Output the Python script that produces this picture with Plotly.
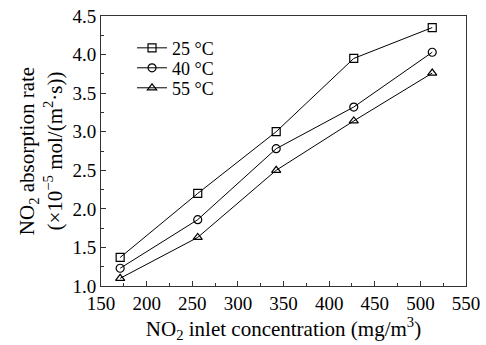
import plotly.graph_objects as go

conc = [171, 256, 342, 427, 513]
rate_25 = [1.37, 2.20, 3.00, 3.95, 4.35]
rate_40 = [1.23, 1.86, 2.78, 3.32, 4.03]
rate_55 = [1.10, 1.63, 2.50, 3.14, 3.76]
labels = ["25 °C", "40 °C", "55 °C"]
symbols = ["square-open", "circle-open", "triangle-up-open"]
legend_ids = ["legend", "legend2", "legend3"]
legend_y = [0.881, 0.807, 0.733]

font = "Liberation Serif, Times New Roman, serif"

fig = go.Figure()
for name, ys, sym, lid in zip(labels, [rate_25, rate_40, rate_55], symbols, legend_ids):
    fig.add_trace(go.Scatter(
        x=conc, y=ys, name=name, mode="lines+markers", legend=lid, showlegend=True,
        line=dict(color="black", width=1),
        marker=dict(symbol=sym, size=8, color="black", line=dict(width=1.2, color="black")),
    ))

axis_common = dict(
    showline=True, linecolor="#333", linewidth=1, mirror=True,
    ticks="inside", ticklen=5, tickcolor="#333", showgrid=False, zeroline=False,
    tickfont=dict(family=font, size=19, color="black"),
    ticklabeloverflow="allow", automargin=False,
)
fig.update_layout(
    width=486, height=345, showlegend=True,
    margin=dict(l=101, r=20, t=16, b=59, autoexpand=False),
    paper_bgcolor="white", plot_bgcolor="white",
    font=dict(family=font, size=19, color="black"),
    xaxis=dict(range=[150, 550], dtick=50, tick0=150,
               minor=dict(dtick=25, ticks="inside", ticklen=3, tickcolor="#333"),
               title=dict(text="NO<sub>2</sub> inlet concentration (mg/m<sup>3</sup>)",
                          font=dict(family=font, size=21), standoff=4),
               **axis_common),
    yaxis=dict(range=[1.0, 4.5], dtick=0.5, tick0=1.0, tickformat=".1f",
               minor=dict(dtick=0.25, ticks="inside", ticklen=3, tickcolor="#333"),
               title=dict(text="NO<sub>2</sub> absorption rate<br>(×10<sup>−5</sup> mol/(m<sup>2</sup>·s))",
                          font=dict(family=font, size=21), standoff=4),
               **axis_common),
)
for lid, ly in zip(legend_ids, legend_y):
    fig.update_layout({lid: dict(x=0.085, y=ly, xanchor="left", yanchor="middle",
                                 bgcolor="rgba(0,0,0,0)", font=dict(family=font, size=18),
                                 itemwidth=30, visible=True)})

fig.write_html("out.html", config={"displayModeBar": False},
               post_script="document.body.style.margin='0';document.body.style.overflow='hidden';")
